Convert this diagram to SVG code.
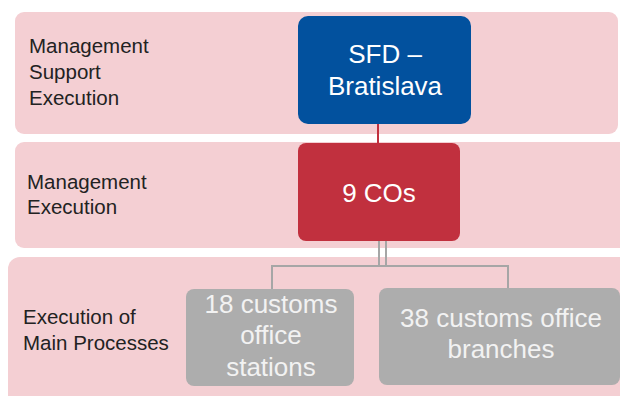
<svg xmlns="http://www.w3.org/2000/svg" width="620" height="396" viewBox="0 0 620 396">
<style>
.band{fill:#F4CFD3}
.lbl{font-family:"Liberation Sans",Arial,sans-serif;font-size:20.5px;fill:#222}
.nt{font-family:"Liberation Sans",Arial,sans-serif;font-size:26px;text-anchor:middle}
.w{fill:#FFFFFF}
.g{fill:#F2F2F2}
.gl{fill:none;stroke:#A6A6A6;stroke-width:2}
</style>
<rect width="620" height="396" fill="#FFFFFF"/>
<g id="band1"><rect class="band" x="15" y="12" width="603" height="122" rx="9"/>
<text class="lbl" x="29" y="53">Management</text><text class="lbl" x="29" y="79">Support</text><text class="lbl" x="29" y="105">Execution</text></g>
<g id="band2"><rect class="band" x="15" y="142" width="620" height="106" rx="9"/>
<text class="lbl" x="27" y="189">Management</text><text class="lbl" x="27" y="214">Execution</text></g>
<g id="band3"><rect class="band" x="8" y="257" width="630" height="150" rx="12"/>
<text class="lbl" x="23" y="324">Execution of</text><text class="lbl" x="23" y="350">Main Processes</text></g>
<g id="connectors">
<line x1="378" y1="120" x2="378" y2="146" stroke="#C1303E" stroke-width="2"/>
<line class="gl" x1="379" y1="238" x2="379" y2="266"/>
<line class="gl" x1="386" y1="238" x2="386" y2="266"/>
<polyline class="gl" points="272,292 272,266 508,266 508,290"/>
</g>
<g id="sfd"><rect x="298" y="16" width="173" height="108" rx="10" fill="#02519E"/>
<text class="nt w" x="385" y="63">SFD –</text><text class="nt w" x="385" y="95">Bratislava</text></g>
<g id="cos"><rect x="298" y="143" width="162" height="98" rx="8" fill="#C1303E"/>
<text class="nt w" x="379" y="202">9 COs</text></g>
<g id="stations"><rect x="186" y="289" width="168" height="97" rx="8" fill="#ADADAD"/>
<text class="nt g" x="271" y="313">18 customs</text><text class="nt g" x="271" y="344">office</text><text class="nt g" x="271" y="376">stations</text></g>
<g id="branches"><rect x="379" y="288" width="241" height="97" rx="8" fill="#ADADAD"/>
<text class="nt g" x="501" y="327">38 customs office</text><text class="nt g" x="501" y="358">branches</text></g>
</svg>
